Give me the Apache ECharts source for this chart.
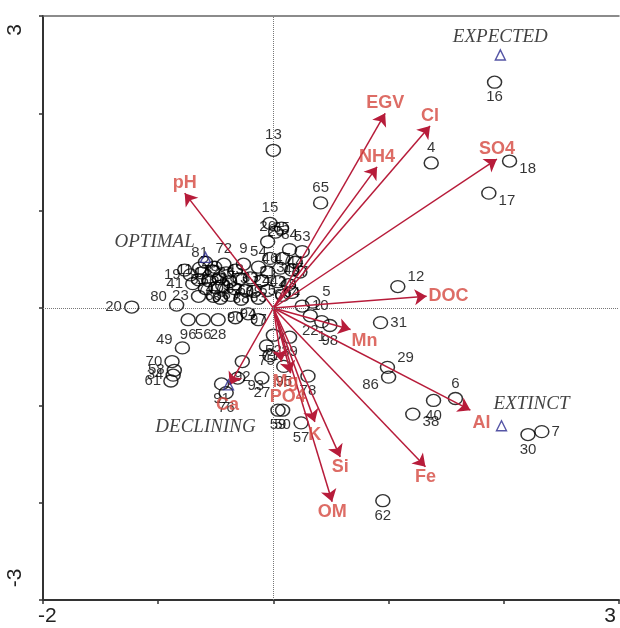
<!DOCTYPE html>
<html><head><meta charset="utf-8">
<script src="https://cdn.jsdelivr.net/npm/echarts@6/dist/echarts.min.js"></script>
<style>html,body{margin:0;padding:0;background:#fff}#c{width:620px;height:628px}</style>
</head><body><div id="c"></div>
<script>
// ---- Sites (CCA scores) ----
const siteLabels = ['16','4','18','17','65','13','12','5','10','22','1','98','31','29','86','6','40','38','30','7','62','57','78','59','50','39','52','75','71','95','92','93','27','91','76','49','70','58','34','61','96','56','28','90','94','97','20','80','23','41','19','81','72','9','54','15','35','25','26','84','53','47','44','46','3','37','45','21','33','24','42','48','55','60','63','64','67','2','8','11','14','32','36','43','51','66','68','69','73','74','77','79','82','83','85','87','88','89'];
const siteX = [1.92,1.37,2.05,1.87,0.41,0.00,1.08,0.34,0.25,0.32,0.42,0.49,0.93,0.99,1.00,1.58,1.39,1.21,2.21,2.33,0.95,0.24,0.30,0.04,0.08,0.14,0.00,-0.06,-0.03,0.09,-0.27,-0.31,-0.10,-0.45,-0.41,-0.79,-0.88,-0.86,-0.87,-0.89,-0.74,-0.61,-0.48,-0.33,-0.22,-0.13,-1.23,-0.84,-0.65,-0.70,-0.72,-0.64,-0.43,-0.26,-0.13,-0.03,0.07,0.02,-0.05,0.14,0.25,0.08,0.19,-0.03,0.06,0.23,0.16,-0.05,-0.20,-0.10,0.04,0.13,-0.05,0.08,-0.13,0.16,-0.24,-0.59,-0.51,-0.77,-0.62,-0.53,-0.41,-0.33,-0.65,-0.56,-0.47,-0.38,-0.29,-0.59,-0.50,-0.44,-0.34,-0.52,-0.46,-0.37,-0.28,-0.17];
const siteY = [2.32,1.49,1.51,1.18,1.08,1.62,0.22,0.06,0.02,-0.08,-0.14,-0.18,-0.15,-0.61,-0.71,-0.93,-0.95,-1.09,-1.30,-1.27,-1.98,-1.18,-0.70,-1.05,-1.05,-0.30,-0.28,-0.39,-0.49,-0.60,-0.55,-0.72,-0.72,-0.78,-0.87,-0.41,-0.55,-0.64,-0.69,-0.75,-0.12,-0.12,-0.12,-0.10,-0.06,-0.12,0.01,0.03,0.12,0.25,0.34,0.41,0.45,0.45,0.42,0.87,0.82,0.78,0.68,0.60,0.58,0.51,0.47,0.51,0.41,0.37,0.39,0.37,0.31,0.28,0.27,0.24,0.18,0.13,0.10,0.16,0.18,0.47,0.42,0.39,0.36,0.38,0.36,0.39,0.29,0.28,0.30,0.27,0.30,0.20,0.21,0.23,0.20,0.12,0.10,0.13,0.09,0.17];
// label placement code for each site
const sitePlace = ['b','t','br','br','t','t','tr','tr','r','b','b','b','r','tr','bl','t','b','br','b','r','b','b','b','b','b','b','b','b','c','b','b','br','b','b','b','tl','l','l','l','l','b','b','b','c','c','c','l','tl','l','l','l','t','t','t','t','t','c','c','t','t','t','c','c','c','c','c','c','c','c','c','c','c','c','c','c','c','c','c','c','c','c','c','c','c','c','c','c','c','c','c','c','c','c','c','c','c','c','c'];

// ---- Environmental variables (biplot arrows) ----
const varNames = ['EGV','Cl','NH4','SO4','pH','DOC','Mn','Al','Fe','Si','OM','K','Ca','PO4','Mg'];
const varX = [0.97,1.36,0.90,1.94,-0.77,1.33,0.67,1.71,1.32,0.58,0.51,0.36,-0.38,0.15,0.07];
const varY = [2.00,1.87,1.45,1.53,1.18,0.12,-0.22,-1.05,-1.63,-1.53,-1.99,-1.17,-0.79,-0.67,-0.55];
const varPlace = ['t','t','t','t','t','r','mn','al','b','b','b','k','ca','po','mg'];

// ---- Reference groups (triangles) ----
const groupNames = ['EXPECTED','OPTIMAL','EXTINCT','DECLINING'];
const groupX = [1.97,-0.59,1.98,-0.39];
const groupY = [2.60,0.52,-1.21,-0.79];

// ---- Axis ranges and end tick labels ----
const xRange = [-2, 3];
const yRange = [-3, 3];
const xTickValues = [-2, 3];
const xTickLabels = ['-2', '3'];
const yTickValues = [-3, 3];
const yTickLabels = ['-3', '3'];

const placeStyle = {
  t: {position:'top', distance:1},
  b: {position:'bottom', distance:1},
  l: {position:'left', distance:2},
  r: {position:'right', distance:2},
  tr: {position:'right', distance:2, offset:[0,-10]},
  br: {position:'right', distance:2, offset:[0,8]},
  tl: {position:'left', distance:2, offset:[0,-8]},
  bl: {position:'left', distance:2, offset:[0,8]},
  c: {position:'inside'},
  mn: {position:'right', distance:1, offset:[0,12]},
  al: {position:'bottom', distance:1, offset:[11,3]},
  k: {position:'bottom', distance:1, offset:[0,3]},
  ca: {position:'bottom', distance:1, offset:[-2,10]},
  po: {position:'bottom', distance:1, offset:[-3,14]},
  mg: {position:'bottom', distance:1, offset:[4,10]}
};
const groupPlace = [
  {position:'top', distance:3, offset:[0,0]},
  {position:'left', distance:5, offset:[0,-15]},
  {position:'top', distance:3, offset:[30,-4]},
  {position:'bottom', distance:3, offset:[-23,24]}
];

const chart = echarts.init(document.getElementById('c'), null, {renderer:'canvas'});

const siteData = siteLabels.map((n,i)=>({
  name:n, value:[siteX[i], siteY[i]],
  label: Object.assign({show:true}, placeStyle[sitePlace[i]])
}));
const arrowData = varNames.map((n,i)=>({coords:[[0,0],[varX[i],varY[i]]]}));
const varTipData = varNames.map((n,i)=>({
  name:n, value:[varX[i],varY[i]],
  label: Object.assign({show:true}, placeStyle[varPlace[i]])
}));
const groupData = groupNames.map((n,i)=>({
  name:n, value:[groupX[i],groupY[i]],
  label: Object.assign({show:true}, groupPlace[i])
}));

const axisCommon = {
  type:'value', splitLine:{show:false},
  axisLine:{show:true, onZero:false, lineStyle:{color:'#333', width:2}},
  axisTick:{show:true, length:4, lineStyle:{color:'#333', width:1.5}},
  axisLabel:{show:false}
};

chart.setOption({
  animation:false,
  backgroundColor:'#fff',
  grid:{left:43, right:1, top:16, bottom:28},
  xAxis:[
    Object.assign({}, axisCommon, {min:xRange[0], max:xRange[1], interval:1, position:'bottom'}),
    {type:'value', min:xRange[0], max:xRange[1], position:'top', splitLine:{show:false},
     axisLine:{show:true, onZero:false, lineStyle:{color:'#666', width:1.5}},
     axisTick:{show:false}, axisLabel:{show:false}}
  ],
  yAxis:[
    Object.assign({}, axisCommon, {min:yRange[0], max:yRange[1], interval:1, position:'left'})
  ],
  series:[
    {
      type:'scatter', name:'sites', z:3,
      symbol:'circle', symbolSize:[14,12],
      itemStyle:{color:'rgba(0,0,0,0)', borderColor:'#000', borderWidth:1.4},
      label:{show:true, formatter:'{b}', color:'#000', fontSize:15, fontFamily:'Liberation Sans, Arial, sans-serif'},
      data:siteData,
      markLine:{
        silent:true, symbol:'none', animation:false,
        label:{show:false},
        lineStyle:{type:'dotted', color:'#777', width:1},
        data:[{xAxis:0},{yAxis:0}]
      }
    },
    {
      type:'lines', name:'arrows', coordinateSystem:'cartesian2d', z:4,
      symbol:['none','arrow'], symbolSize:[1,12],
      lineStyle:{color:'#b71c3a', width:1.5, opacity:1},
      data:arrowData
    },
    {
      type:'scatter', name:'variables', z:5,
      symbolSize:0,
      itemStyle:{color:'rgba(0,0,0,0)'},
      label:{show:true, formatter:'{b}', color:'#d4473f', fontSize:18, fontWeight:'bold', fontFamily:'Liberation Sans, Arial, sans-serif'},
      data:varTipData
    },
    {
      type:'scatter', name:'groups', z:6,
      symbol:'triangle', symbolSize:10,
      itemStyle:{color:'rgba(0,0,0,0)', borderColor:'#2b2b8f', borderWidth:1.4},
      label:{show:true, formatter:'{b}', color:'#111', fontSize:19, fontStyle:'italic', fontFamily:'Liberation Serif, Times New Roman, serif'},
      data:groupData
    }
  ]
});

// End tick labels, placed from the axis scales
const g = [];
const yBase = chart.convertToPixel({gridIndex:0}, [xRange[0], yRange[0]])[1];
xTickValues.forEach((v,i)=>{
  const px = chart.convertToPixel({xAxisIndex:0}, v);
  g.push({type:'text', x: i===0 ? px-5 : px-3, y: yBase+6,
    style:{text:xTickLabels[i], fontSize:21, fontFamily:'Liberation Sans, Arial, sans-serif', fill:'#222',
      align: i===0 ? 'left' : 'right', verticalAlign:'top'}});
});
const xLeft = chart.convertToPixel({xAxisIndex:0}, xRange[0]);
yTickValues.forEach((v,i)=>{
  const py = chart.convertToPixel({yAxisIndex:0}, v);
  g.push({type:'text', x: xLeft-28, y: i===0 ? py-22 : py+14, rotation:Math.PI/2,
    style:{text:yTickLabels[i], fontSize:21, fontFamily:'Liberation Sans, Arial, sans-serif', fill:'#222',
      align:'center', verticalAlign:'middle'}});
});
chart.setOption({graphic:g});
</script>
</body></html>
